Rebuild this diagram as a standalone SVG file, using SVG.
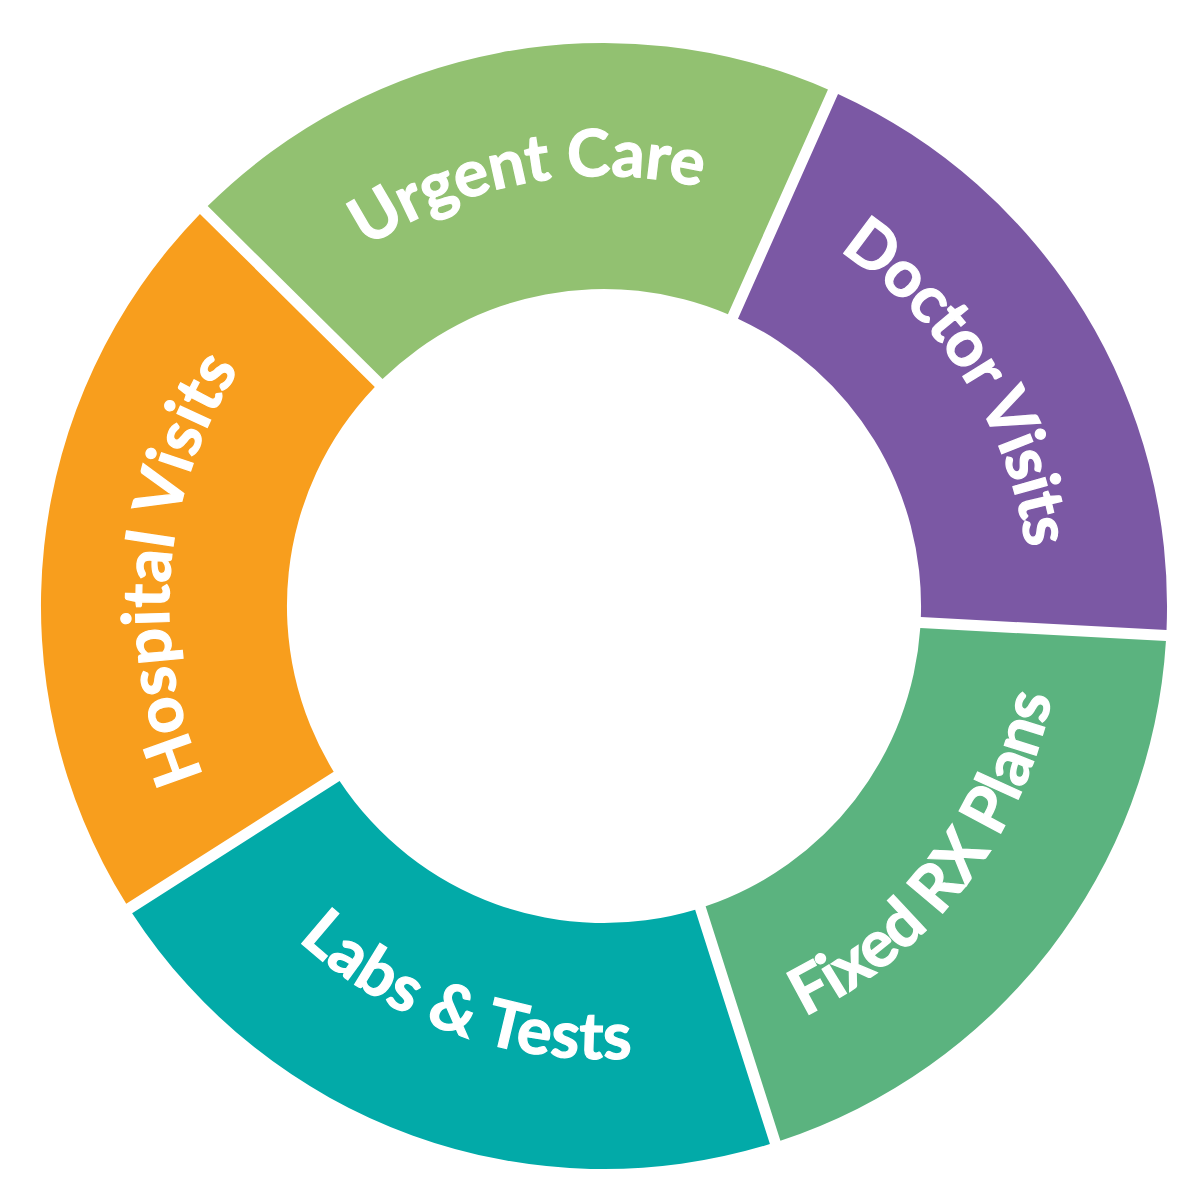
<svg xmlns="http://www.w3.org/2000/svg" xmlns:xlink="http://www.w3.org/1999/xlink" width="1200" height="1204" viewBox="0 0 1200 1204">
  <style>
    .lbl { font-family: Lato, "Open Sans", "Liberation Sans", sans-serif; font-weight: 700; font-size: 65px; fill: #ffffff; stroke: #ffffff; stroke-width: 1.2px; }
  </style>
  <defs>
    <path id="p-urgent" d="M 366.67 247.43 A 430 430 0 0 1 819 233.61"/>
    <path id="p-doctor" d="M 839.13 250.76 A 426 426 0 0 1 1023.53 679.97"/>
    <path id="p-fixed" d="M 804.34 1016.75 A 457 457 0 0 0 1059.26 566.17"/>
    <path id="p-labs" d="M 297.96 939.99 A 453 453 0 0 0 758.94 1031.68"/>
    <path id="p-hospital" d="M 203.58 775.97 A 435 435 0 0 1 324.39 272.77"/>
  </defs>
  <rect width="1200" height="1204" fill="#ffffff"/>
  <g id="urgent-care">
    <path d="M 207.69 206.08 A 563 563 0 0 1 827.98 89.43 L 727.92 314.16 A 317 317 0 0 0 382.55 379.11 Z" fill="#92C171"/>
    <text class="lbl"><textPath xlink:href="#p-urgent" href="#p-urgent" textLength="349" lengthAdjust="spacing">Urgent Care</textPath></text>
  </g>
  <g id="doctor-visits">
    <path d="M 838.03 93.91 A 563 563 0 0 1 1166.52 629.98 L 920.86 617.10 A 317 317 0 0 0 737.97 318.64 Z" fill="#7B58A4"/>
    <text class="lbl"><textPath xlink:href="#p-doctor" href="#p-doctor" textLength="362" lengthAdjust="spacing">Doctor Visits</textPath></text>
  </g>
  <g id="fixed-rx-plans">
    <path d="M 1165.94 640.96 A 563 563 0 0 1 780.41 1140.69 L 705.62 906.33 A 317 317 0 0 0 920.28 628.08 Z" fill="#5BB37F"/>
    <text class="lbl"><textPath xlink:href="#p-fixed" href="#p-fixed" textLength="419" lengthAdjust="spacing">Fixed RX Plans</textPath></text>
  </g>
  <g id="labs-tests">
    <path d="M 769.93 1144.03 A 563 563 0 0 1 132.13 913.14 L 339.60 780.96 A 317 317 0 0 0 695.14 909.67 Z" fill="#02AAA8"/>
    <text class="lbl"><textPath xlink:href="#p-labs" href="#p-labs" textLength="364" lengthAdjust="spacing">Labs &amp; Tests</textPath></text>
  </g>
  <g id="hospital-visits">
    <path d="M 126.22 903.86 A 563 563 0 0 1 199.95 213.90 L 374.81 386.93 A 317 317 0 0 0 333.70 771.68 Z" fill="#F89E1D"/>
    <text class="lbl"><textPath xlink:href="#p-hospital" href="#p-hospital" textLength="425" lengthAdjust="spacing">Hospital Visits</textPath></text>
  </g>
  <g id="connectors"/>
</svg>
